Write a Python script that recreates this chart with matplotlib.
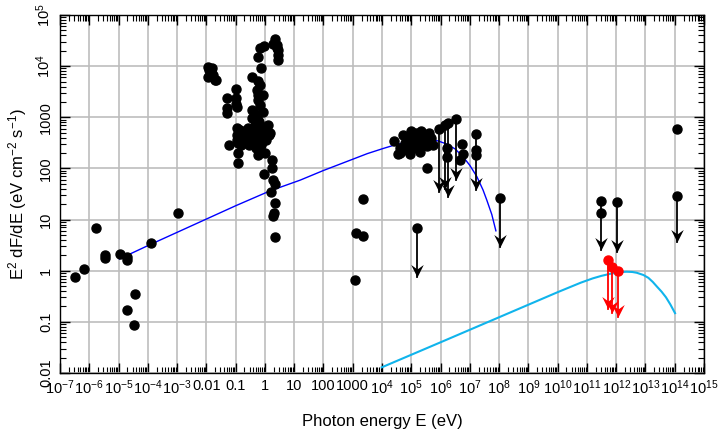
import numpy as np
import matplotlib
matplotlib.use("Agg")
import matplotlib.pyplot as plt
from matplotlib.path import Path
from matplotlib.ticker import FixedLocator, FixedFormatter, LogLocator, NullFormatter

plt.rcParams['font.family'] = ['Liberation Sans', 'DejaVu Sans']
plt.rcParams['mathtext.fontset'] = 'custom'
plt.rcParams['mathtext.rm'] = 'Liberation Sans'
plt.rcParams['mathtext.it'] = 'Liberation Sans'

# ---- data (log10 of photon energy in eV, log10 of E^2 dF/dE in eV cm^-2 s^-1)
# radio / mm points
radio_logE = [-6.50, -6.19, -5.78, -5.47, -5.47, -4.96, -4.71, -4.71, -3.90, -2.96,
              -4.45, -4.71, -4.46]
radio_logF = [-0.12, 0.03, 0.83, 0.31, 0.25, 0.33, 0.27, 0.20, 0.54, 1.13,
              -0.45, -0.76, -1.06]

# IR / optical points
opt_logE = [-1.93, -1.90, -1.85, -1.76, -1.70, -1.93, -1.82, -1.68, -1.85,
            -1.31, -1.31, -1.31, -1.00, -1.00, -1.00, -0.96,
            -1.22, -0.96, -0.91, -0.93, -0.91, -0.57, -0.28, -0.23, -0.40, -0.25,
            0.00, 0.17, 0.23, 0.23, -0.02, 0.29, 0.35, 0.21, 0.35, 0.32, 0.29, 0.35,
            0.35, 0.29, 0.40, 0.44, 0.44, 0.46, 0.40, -0.02, -0.16, -0.25, -0.13,
            -0.45, -0.25, -0.17, -0.28, -0.25, -0.05, -0.23, -0.17, -0.45, -0.05,
            -0.34, -0.45, -0.23, 0.10,
            -0.85, -0.85, -0.95, -0.71, -0.57, -0.51, -0.45, -0.40, -0.34, -0.25,
            -0.17, -0.10, 0.04, 0.14, -0.60, -0.45, -0.10, -0.80, -0.55, -0.30,
            -0.15, 0.05, -0.70, -0.95, -0.35, -0.20]
opt_logF = [3.99, 3.92, 3.86, 3.83, 3.73, 3.79, 3.96, 3.72, 3.89,
            3.37, 3.18, 3.09, 3.55, 3.37, 3.26, 3.21,
            2.46, 2.65, 2.49, 2.30, 2.10, 2.62, 2.56, 2.42, 2.49, 2.26,
            2.30, 2.69, 2.16, 2.00, 1.90, 1.77, 1.70, 1.54, 1.32, 1.12, 1.07, 0.66,
            4.54, 4.43, 4.35, 4.22, 4.12, 4.32, 4.41, 4.39, 4.35, 4.18, 3.96,
            3.78, 3.70, 3.63, 3.53, 3.44, 3.44, 3.34, 3.24, 3.14, 3.11,
            3.08, 2.98, 2.95, 2.85,
            2.75, 2.62, 2.79, 2.71, 2.79, 2.65, 2.75, 2.69, 2.62, 2.75,
            2.65, 2.71, 2.81, 2.65, 2.56, 2.52, 2.52, 2.45, 2.45, 2.40,
            2.46, 2.56, 2.58, 2.56, 2.85, 2.90]

# sub-mm / X-ray / gamma points
hi_logE = [3.34, 3.11, 3.34, 3.08,
           4.42, 4.56, 4.62, 4.73, 4.79, 4.86, 4.92, 4.99, 5.03, 5.09, 5.16, 5.23,
           5.27, 5.33, 5.40, 5.47, 5.54, 5.61, 5.68, 5.73, 5.30, 4.96, 4.62, 5.53,
           5.10, 4.85, 5.35, 5.60, 6.21, 6.21, 6.72, 6.78, 6.67, 7.22, 7.22,
           11.49, 14.06]
hi_logF = [1.40, 0.74, 0.68, -0.18,
           2.54, 2.28, 2.39, 2.65, 2.50, 2.36, 2.61, 2.73, 2.46, 2.56, 2.69, 2.42,
           2.59, 2.73, 2.52, 2.65, 2.44, 2.69, 2.59, 2.46, 2.32, 2.28, 2.30, 2.00,
           2.40, 2.45, 2.62, 2.55, 2.39, 2.23, 2.47, 2.28, 2.16, 2.37, 2.26,
           1.12, 2.78]

# upper limits: value and lower end of the arrow
ul_logE = [5.18, 5.96, 6.15, 6.25, 6.53, 7.22, 8.02, 11.49, 12.02, 14.06]
ul_logF = [0.84, 2.77, 2.85, 2.88, 2.97, 2.67, 1.42, 1.37, 1.34, 1.47]
ul_logEnd = [-0.12, 1.53, 1.60, 1.44, 1.77, 1.58, 0.47, 0.41, 0.37, 0.57]

# VHE upper limits (red)
vhe_logE = [11.73, 11.86, 12.07]
vhe_logF = [0.20, 0.08, -0.01]
vhe_logEnd = [-0.74, -0.83, -0.90]

# synchrotron model curve
sync_logE = [-4.97, -4.0, -2.9, -2.0, -1.0, 0.17, 1.2, 2.0, 2.91, 3.5, 4.04, 4.5,
             5.0, 5.3, 5.6, 5.9, 6.2, 6.5, 6.78, 7.0, 7.24, 7.45, 7.58, 7.75, 7.89]
sync_logF = [0.23, 0.49, 0.776, 1.01, 1.27, 1.56, 1.77, 1.96, 2.16, 2.29, 2.39, 2.47,
             2.53, 2.56, 2.565, 2.54, 2.48, 2.38, 2.22, 2.06, 1.84, 1.58, 1.38, 1.10, 0.78]

# inverse Compton model curve
ic_logE = [3.99, 6.0, 8.0, 10.0, 10.79, 11.2, 11.5, 11.8, 12.0, 12.2, 12.36, 12.55,
           12.7, 12.93, 13.1, 13.25, 13.39, 13.55, 13.7, 13.85, 14.01]
ic_logF = [-1.89, -1.40, -0.91, -0.42, -0.234, -0.15, -0.10, -0.06, -0.04, -0.025,
           -0.02, -0.025, -0.04, -0.084, -0.14, -0.22, -0.31, -0.41, -0.52, -0.66, -0.83]

xticks_exp = list(range(-7, 16))
xtick_labels = ['$10^{-7}$', '$10^{-6}$', '$10^{-5}$', '$10^{-4}$', '$10^{-3}$',
                '0.01', '0.1', '1', '10', '100', '1000'] + \
               ['$10^{%d}$' % k for k in range(4, 16)]
yticks_exp = list(range(-2, 6))
ytick_labels = ['0.01', '0.1', '1', '10', '100', '1000', '$10^4$', '$10^5$']

# arrow head marker (tip at origin)
head = Path([(0, 0), (-1.25, 2.5), (0, 1.6), (1.25, 2.5), (0, 0)],
            [Path.MOVETO, Path.LINETO, Path.LINETO, Path.LINETO, Path.CLOSEPOLY])

p = lambda a: 10 ** np.asarray(a, dtype=float)

fig = plt.figure(figsize=(7.22, 4.34), dpi=100)
ax = fig.add_axes([0.0831, 0.1406, 0.8920, 0.8248])
ax.set_xscale('log')
ax.set_yscale('log')
ax.set_xlim(1e-7, 1e15)
ax.set_ylim(1e-2, 1e5)

ax.grid(True, which='major', color='#bdbdbd', lw=1.2)
ax.set_axisbelow(True)

ax.plot(p(sync_logE), p(sync_logF), color='#0000ff', lw=1.0, zorder=3)
ax.plot(p(ic_logE), p(ic_logF), color='#10b4ec', lw=1.5, zorder=3)

for e, f, end in zip(ul_logE, ul_logF, ul_logEnd):
    ax.plot([10 ** e, 10 ** e], [10 ** f, 10 ** end], color='black', lw=1.3, zorder=4)
    ax.plot([10 ** e], [10 ** end], marker=head, ms=18, color='black', mew=0, zorder=4)
ax.plot(p(ul_logE), p(ul_logF), 'o', color='black', ms=6.5, zorder=5)

for e, f, end in zip(vhe_logE, vhe_logF, vhe_logEnd):
    ax.plot([10 ** e, 10 ** e], [10 ** f, 10 ** end], color='red', lw=1.3, zorder=4)
    ax.plot([10 ** e], [10 ** end], marker=head, ms=18, color='red', mew=0, zorder=4)
ax.plot(p(vhe_logE), p(vhe_logF), 'o', color='red', ms=6.5, zorder=5)

for le, lf in [(radio_logE, radio_logF), (opt_logE, opt_logF), (hi_logE, hi_logF)]:
    ax.plot(p(le), p(lf), 'o', color='black', ms=6.5, zorder=5)

ax.xaxis.set_major_locator(FixedLocator([10.0 ** k for k in xticks_exp]))
ax.xaxis.set_major_formatter(FixedFormatter(xtick_labels))
ax.xaxis.set_minor_locator(LogLocator(base=10, subs=np.arange(2, 10), numticks=40))
ax.xaxis.set_minor_formatter(NullFormatter())
ax.yaxis.set_major_locator(FixedLocator([10.0 ** k for k in yticks_exp]))
ax.yaxis.set_major_formatter(FixedFormatter(ytick_labels))
ax.yaxis.set_minor_locator(LogLocator(base=10, subs=np.arange(2, 10), numticks=40))
ax.yaxis.set_minor_formatter(NullFormatter())

ax.tick_params(which='both', direction='in', top=True, right=True, color='black')
ax.tick_params(which='major', length=7, width=1)
ax.tick_params(which='minor', length=4, width=0.8)
ax.tick_params(axis='x', labelsize=10.5, pad=4)
ax.tick_params(axis='y', labelsize=10.5, pad=5)
for lab in ax.get_yticklabels():
    lab.set_rotation(90)
    lab.set_va('center')

for s in ax.spines.values():
    s.set_linewidth(1.0)
    s.set_color('black')

ax.set_xlabel('Photon energy E (eV)', fontsize=12, labelpad=12)
ax.set_ylabel('E$^2$ dF/dE (eV cm$^{-2}$ s$^{-1}$)', fontsize=12, labelpad=4)

fig.savefig('out.png', dpi=100)
